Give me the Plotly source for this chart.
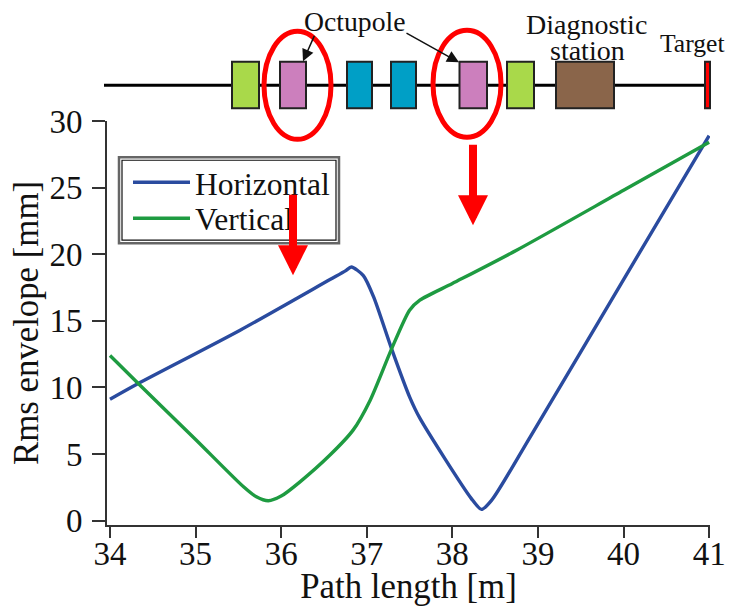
import plotly.graph_objects as go

W, H = 729, 606
L, R, T, B = 107, 710, 120.7, 525

path_h = [34, 34.33, 35.52, 36.57, 36.75, 36.82, 36.96, 37.08, 37.29, 37.5, 37.62, 38.22, 38.34, 38.46, 38.91, 40, 41]
horizontal = [9.12, 10.3, 14.3, 18.1, 18.75, 19.04, 18.4, 16.8, 12.9, 9.3, 7.7, 1.68, 0.85, 1.55, 6.3, 18.1, 28.9]
path_v = [34, 34.33, 35, 35.56, 35.71, 35.85, 36, 36.22, 36.57, 36.84, 37.04, 37.29, 37.5, 37.62, 38, 38.75, 40, 41]
vertical = [12.4, 10.3, 6.1, 2.55, 1.8, 1.5, 1.85, 2.92, 4.93, 6.8, 9.05, 12.9, 15.8, 16.55, 17.8, 20.3, 24.8, 28.4]
x_ticks = [34, 35, 36, 37, 38, 39, 40, 41]
y_ticks = [0, 5, 10, 15, 20, 25, 30]
FONT = "Liberation Serif"

def px(x):
    return (x - L) / (R - L)

def py(y):
    return (B - y) / (B - T)

def box(x0, x1, y0, y1, fill, line="#222222", width=2, kind="rect", layer="above"):
    return dict(type=kind, xref="paper", yref="paper", x0=px(x0), x1=px(x1), y0=py(y0), y1=py(y1),
                fillcolor=fill, line=dict(color=line, width=width), layer=layer)

shapes = [
    dict(type="line", xref="paper", yref="paper", x0=px(104), x1=px(706), y0=py(85), y1=py(85),
         line=dict(color="black", width=3)),
    box(232, 259, 61.5, 108, "#A9D94A"),
    box(280, 306, 61.5, 108, "#CC7FBD"),
    box(347, 372, 61.5, 108, "#009FC6"),
    box(391, 416, 61.5, 108, "#009FC6"),
    box(459.5, 487, 61.5, 108, "#CC7FBD"),
    box(507, 534, 61.5, 108, "#A9D94A"),
    box(556, 614, 61.5, 108, "#8A654A"),
    box(705, 710, 61.5, 108, "#FF0000"),
    box(264, 331, 31, 139, "rgba(0,0,0,0)", "#FF0000", 5, "circle"),
    box(433, 501, 30, 137, "rgba(0,0,0,0)", "#FF0000", 5, "circle"),
    box(119, 339, 157, 243, "rgba(0,0,0,0)", "#666666", 2.5),
    box(122, 336, 160, 240, "rgba(0,0,0,0)", "#111111", 1.2),
]

def text(s, x, y, size):
    return dict(text=s, xref="paper", yref="paper", x=px(x), y=py(y), showarrow=False,
                font=dict(family=FONT, size=size, color="#111111"), xanchor="center", yanchor="middle")

def arrow(x, y, x_from, y_from, width, head, color):
    return dict(text="", xref="paper", yref="paper", x=px(x), y=py(y), ax=x_from - x, ay=y_from - y,
                showarrow=True, arrowhead=2, arrowwidth=width, arrowsize=head, arrowcolor=color)

annotations = [
    text("Octupole", 355, 21, 27.7),
    text("Diagnostic", 586, 24, 28),
    text("station", 587, 50, 28),
    text("Target", 692, 43, 25.6),
    arrow(303, 61, 315, 34, 1.5, 1.6, "#111111"),
    arrow(459, 62, 405, 32, 1.5, 1.6, "#111111"),
    arrow(293, 275, 293, 193, 8, 0.75, "#FF0000"),
    arrow(473, 225, 473, 143, 8, 0.75, "#FF0000"),
]

fig = go.Figure()
fig.add_trace(go.Scatter(x=path_h, y=horizontal, mode="lines", name="Horizontal", legend="legend", showlegend=True,
                         line=dict(color="#2A4B9F", width=3.4, shape="spline", smoothing=0.7)))
fig.add_trace(go.Scatter(x=path_v, y=vertical, mode="lines", name="Vertical", legend="legend2", showlegend=True,
                         line=dict(color="#1E9B41", width=3.4, shape="spline", smoothing=0.7)))

axis = dict(showgrid=False, zeroline=False, showline=True, linecolor="#333333", linewidth=2,
            ticks="outside", tickcolor="#333333", tickwidth=1.5, automargin=False,
            tickfont=dict(family=FONT, size=33, color="#111111"))
legend_style = dict(xanchor="left", yanchor="middle", bgcolor="rgba(0,0,0,0)", borderwidth=0,
                    font=dict(family=FONT, size=31.5, color="#111111"), itemwidth=57)
fig.update_layout(
    width=W, height=H, autosize=False, showlegend=True,
    margin=dict(l=L, r=W - R, t=T, b=H - B, pad=0, autoexpand=False),
    paper_bgcolor="white", plot_bgcolor="white",
    font=dict(family=FONT, color="#111111"),
    xaxis=dict(range=[33.965, 41.01], tickvals=x_ticks, ticklen=11, ticklabelstandoff=-13,
               title=dict(text="Path length [m]", font=dict(family=FONT, size=34.8, color="#111111"), standoff=2), **axis),
    yaxis=dict(range=[-0.32, 30], tickvals=y_ticks, ticklen=13, ticklabelstandoff=3,
               title=dict(text="Rms envelope [mm]", font=dict(family=FONT, size=34.8, color="#111111"), standoff=0), **axis),
    legend=dict(x=px(128), y=py(182), **legend_style),
    legend2=dict(x=px(128), y=py(218), **legend_style),
    shapes=shapes, annotations=annotations,
)
fig.write_html("out.html", config=dict(displayModeBar=False),
               post_script="document.body.style.margin='0';document.documentElement.style.overflow='hidden';")
